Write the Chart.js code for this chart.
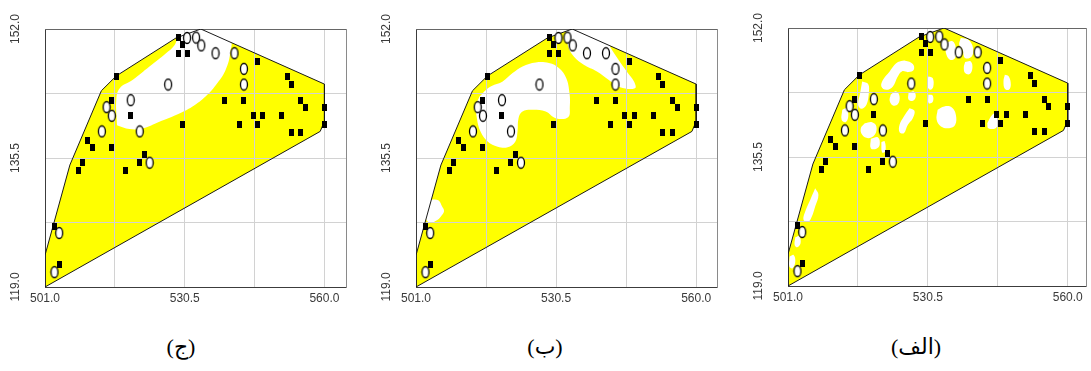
<!DOCTYPE html>
<html>
<head>
<meta charset="utf-8">
<script src="https://cdn.jsdelivr.net/npm/chart.js@4.4.1/dist/chart.umd.min.js"></script>
<style>
  html, body { margin: 0; padding: 0; background: #fff; }
  body { width: 1091px; height: 371px; position: relative; overflow: hidden; }
  canvas { position: absolute; top: 0; }
  .caption {
    position: absolute; top: 334px; width: 100px; margin-left: -50px;
    text-align: center; line-height: 26px; color: #000;
    font: 22px "Liberation Serif", "DejaVu Sans", serif;
  }
</style>
</head>
<body>
<script>
// axes
const xGrid = [501, 515.75, 530.5, 545.25, 560];
const xTickLabels = ['501.0', '', '530.5', '', '560.0'];
const yGrid = [119, 127.25, 135.5, 143.75, 152];
const yTickLabels = ['119.0', '', '135.5', '', '152.0'];

// outline of the sampled area (x, y)
const hull = [
  [501, 119], [501, 123.06], [506.25, 134.6], [512.9, 144.1], [516.05, 146.0],
  [528.65, 150.85], [533.9, 152], [560, 144.95], [560, 140.2], [559.1, 138.9]
];

// sample points
const squares = [
  [529.1, 150.9], [530.0, 150.0], [529.1, 148.9], [531.0, 148.9], [516.0, 145.9],
  [545.9, 147.9], [552.1, 145.9], [553.0, 144.9], [515.1, 142.9], [539.0, 142.9],
  [543.0, 142.9], [555.0, 142.9], [556.0, 141.9], [560.0, 141.9], [519.1, 140.9],
  [545.0, 140.9], [547.0, 140.9], [545.9, 139.8], [542.0, 139.8], [530.0, 139.8],
  [551.0, 140.9], [553.0, 138.8], [555.0, 138.8], [560.0, 139.8], [510.0, 137.8],
  [511.0, 136.9], [515.1, 136.9], [522.0, 135.9], [521.0, 134.9], [509.0, 134.9],
  [508.0, 133.9], [518.0, 133.9], [503.0, 126.8], [504.0, 121.9]
];
const circles = [
  [531.0, 150.85], [532.9, 150.9], [534.0, 149.9], [537.0, 148.9], [541.0, 148.9],
  [543.0, 146.9], [543.0, 144.9], [527.0, 144.9], [519.1, 142.9], [514.0, 142.0],
  [515.1, 140.9], [513.0, 138.9], [521.0, 138.9], [523.1, 134.9], [504.0, 125.9],
  [503.0, 120.9]
];

// white (unfilled) zones per panel
const holesJim = [
  [[516.2, 139.7], [516.05, 142.9], [516.75, 144.4], [519.55, 145.5], [523.05, 147.2],
   [526.55, 148.9], [528.3, 149.9], [529.6, 151.4], [533.9, 152.4], [540.0, 150.8],
   [540.1, 148.9], [539.15, 146.8], [537.4, 145.1], [534.95, 143.4], [532.15, 142.1],
   [528.65, 141.0], [525.15, 140.15], [521.65, 139.3], [518.85, 139.2]]
];
const holesBa = [
  [[514.37, 143.37], [516.46, 144.56], [519.25, 145.29], [521.34, 146.36], [523.43, 147.21],
   [526.22, 147.73], [529.0, 147.64], [531.09, 147.0], [532.62, 145.72], [533.32, 143.79],
   [533.39, 142.08], [533.04, 140.71], [530.4, 140.59], [528.31, 141.44], [525.52, 141.66],
   [523.43, 141.44], [522.59, 140.59], [522.38, 138.88], [521.9, 137.59], [520.3, 136.87],
   [518.2, 136.95], [516.12, 137.59], [514.58, 138.88], [513.82, 140.59], [513.68, 142.3]],
  [[532.5, 152.2], [533.04, 149.78], [534.23, 148.49], [536.32, 147.43], [539.1, 146.57],
   [541.54, 145.5], [543.98, 144.56], [547.11, 144.43], [546.9, 145.29], [545.37, 146.57],
   [543.63, 148.07], [542.24, 149.35], [540.9, 150.6], [533.9, 152.4]],
  [[504.0, 130.2], [505.7, 130.1], [506.5, 129.3], [506.9, 128.7], [506.2, 128.0],
   [505.3, 127.5], [504.0, 127.2], [503.1, 127.8]]
];
const holesAlef = [
  [[524.18, 147.65], [525.72, 147.82], [527.32, 147.39], [527.53, 146.66], [526.42, 146.36],
   [525.02, 146.45], [524.04, 145.68], [523.13, 144.53], [521.74, 144.1], [520.69, 144.53],
   [521.04, 145.38], [522.44, 146.45], [523.48, 147.3]],
  [[522.65, 143.46], [523.83, 143.89], [524.53, 143.25], [524.18, 142.27], [523.13, 142.1], [522.44, 142.69]],
  [[526.42, 143.68], [527.53, 143.89], [527.95, 143.25], [527.32, 142.69], [526.42, 142.86]],
  [[526.62, 141.75], [527.67, 141.41], [527.32, 140.47], [526.28, 139.62], [525.44, 138.55],
   [524.53, 138.68], [524.53, 139.62], [525.44, 140.69]],
  [[530.6, 145.81], [531.51, 145.6], [531.65, 144.53], [531.02, 144.1], [530.33, 144.66]],
  [[530.6, 143.46], [531.51, 143.38], [531.51, 142.52], [530.67, 142.39]],
  [[516.64, 145.17], [517.9, 144.83], [518.04, 143.68], [517.55, 142.18], [516.5, 141.67],
   [515.8, 142.18], [516.22, 143.68]],
  [[512.45, 141.54], [513.36, 141.75], [513.71, 140.69], [513.15, 139.96], [512.31, 140.26]],
  [[517.2, 139.83], [518.73, 139.96], [519.64, 139.41], [519.29, 138.34], [517.9, 137.91],
   [516.64, 138.34], [516.36, 139.19]],
  [[518.46, 137.83], [519.99, 138.0], [520.34, 137.06], [519.64, 136.55], [518.46, 136.63]],
  [[520.69, 137.4], [521.39, 137.49], [521.53, 136.2], [520.83, 136.12]],
  [[534.31, 150.08], [535.7, 150.29], [536.4, 149.44], [536.26, 148.16], [535.14, 147.94], [534.31, 148.8]],
  [[537.45, 150.72], [539.05, 150.51], [540.03, 149.44], [539.75, 148.37], [538.35, 148.16],
   [537.8, 149.23], [537.1, 149.87]],
  [[538.35, 147.65], [539.54, 147.73], [539.89, 146.88], [539.33, 146.11], [538.35, 146.24], [538.08, 146.96]],
  [[546.73, 146.02], [547.57, 145.81], [547.99, 144.74], [547.57, 144.1], [546.73, 144.23], [546.45, 145.17]],
  [[532.56, 141.54], [533.96, 141.97], [535.56, 141.84], [536.4, 140.9], [536.26, 139.62],
   [535.0, 139.19], [533.26, 139.41], [532.35, 140.26]],
  [[543.03, 139.83], [544.08, 140.9], [545.13, 141.11], [545.34, 140.05], [544.78, 139.19], [543.24, 139.19]],
  [[506.73, 131.51], [507.42, 130.65], [506.73, 129.16], [506.03, 127.88], [505.33, 127.24],
   [504.28, 127.45], [504.63, 128.52], [505.68, 130.01]],
  [[501.35, 122.76], [502.19, 122.97], [502.54, 122.12], [501.98, 121.26], [501.28, 121.48]],
  [[502.54, 125.23], [503.37, 125.4], [503.65, 124.46], [502.95, 123.95], [502.4, 124.25]]
];

const captions = ['(ج)', '(ب)', '(الف)'];

// page layout of the three panels (left to right)
const panels = [
  { left: 0,   top: 29, plotW: 303, xMax: 564.55, holes: holesJim,  caption: 0, captionX: 181 },
  { left: 371, top: 29, plotW: 303, xMax: 564.38, holes: holesBa,   caption: 1, captionX: 545 },
  { left: 743, top: 28, plotW: 300, xMax: 563.85, holes: holesAlef, caption: 2, captionX: 916 }
];

const PLOT_H = 258;
const AXIS_W = 45;
const AXIS_H = 30;
const labelColor = '#3a3a3a';
const gridColor = '#d2d2d2';
const xFont = { family: '"Liberation Sans Narrow", "Liberation Sans", Arial, sans-serif', size: 12 };
const yFont = { family: '"Liberation Sans", Arial, sans-serif', size: 12 };

const toPts = arr => arr.map(([x, y]) => ({ x, y }));
const closed = arr => arr.concat([arr[0]]);

function squareMark() {
  const c = document.createElement('canvas');
  c.width = 5; c.height = 7;
  const g = c.getContext('2d');
  g.fillStyle = '#000';
  g.fillRect(0, 0, 5, 7);
  return c;
}

function ovalMark() {
  const c = document.createElement('canvas');
  c.width = 10; c.height = 14;
  const g = c.getContext('2d');
  g.beginPath();
  g.ellipse(5, 7, 3.5, 5.5, 0, 0, Math.PI * 2);
  g.fillStyle = '#fff';
  g.fill();
  g.lineWidth = 1.3;
  g.strokeStyle = '#000';
  g.stroke();
  return c;
}

const sq = squareMark();
const ov = ovalMark();

// y labels are rotated; centre them ~29px left of the plot
const meas = document.createElement('canvas').getContext('2d');
meas.font = yFont.size + 'px ' + yFont.family;
const yPad = 29 - meas.measureText('152.0').width / 2;

function makeChart(p) {
  const canvas = document.createElement('canvas');
  canvas.width = AXIS_W + p.plotW + 3;
  canvas.height = p.top + PLOT_H + AXIS_H;
  canvas.style.left = p.left + 'px';
  document.body.appendChild(canvas);

  const datasets = [
    { label: 'squares', data: toPts(squares), showLine: false, pointStyle: sq, pointRadius: 3, order: 1 },
    { label: 'circles', data: toPts(circles), showLine: false, pointStyle: ov, pointRadius: 3, order: 2 },
    { label: 'outline', data: toPts(closed(hull)), borderColor: '#1a1a1a', borderWidth: 1,
      pointRadius: 0, fill: false, tension: 0, order: 3 }
  ];
  p.holes.forEach((h, i) => {
    datasets.push({ label: 'hole' + i, data: toPts(closed(h)), borderWidth: 0, pointRadius: 0,
      backgroundColor: '#ffffff', fill: 'shape', tension: 0.4, order: 4 });
  });
  datasets.push({ label: 'area', data: toPts(hull), borderWidth: 0, pointRadius: 0,
    backgroundColor: '#ffff00', fill: 'shape', tension: 0, order: 5 });

  new Chart(canvas, {
    type: 'line',
    data: { datasets },
    options: {
      responsive: false,
      animation: false,
      events: [],
      layout: { padding: { top: p.top, left: 0, right: 3, bottom: 0 } },
      plugins: {
        legend: { display: false },
        tooltip: { enabled: false },
        filler: { drawTime: 'beforeDraw' }
      },
      scales: {
        x: {
          type: 'linear', position: 'bottom', min: 501, max: p.xMax,
          afterBuildTicks: s => { s.ticks = xGrid.map(v => ({ value: v })); },
          afterFit: s => { s.height = AXIS_H; },
          grid: { color: gridColor, drawTicks: false },
          border: { color: '#3c3c3c' },
          ticks: { autoSkip: false, maxRotation: 0, padding: 4, color: labelColor, font: xFont,
                   callback: (v, i) => xTickLabels[i] }
        },
        y: {
          type: 'linear', position: 'left', min: 119, max: 152,
          afterBuildTicks: s => { s.ticks = yGrid.map(v => ({ value: v })); },
          afterFit: s => { s.width = AXIS_W; },
          grid: { color: gridColor, drawTicks: false },
          border: { color: '#3c3c3c' },
          ticks: { autoSkip: false, minRotation: 90, maxRotation: 90, crossAlign: 'center',
                   padding: yPad, color: labelColor, font: yFont,
                   callback: (v, i) => yTickLabels[i] }
        },
        xTop: {
          type: 'linear', position: 'top',
          afterFit: s => { s.height = 0; },
          grid: { display: false, drawTicks: false },
          border: { color: '#666' },
          ticks: { display: false }
        },
        yRight: {
          type: 'linear', position: 'right',
          afterFit: s => { s.width = 0; },
          grid: { display: false, drawTicks: false },
          border: { color: '#8a8a8a' },
          ticks: { display: false }
        }
      }
    }
  });

  const cap = document.createElement('div');
  cap.className = 'caption';
  cap.style.left = p.captionX + 'px';
  cap.textContent = captions[p.caption];
  document.body.appendChild(cap);
}

panels.forEach(makeChart);
</script>
</body>
</html>
